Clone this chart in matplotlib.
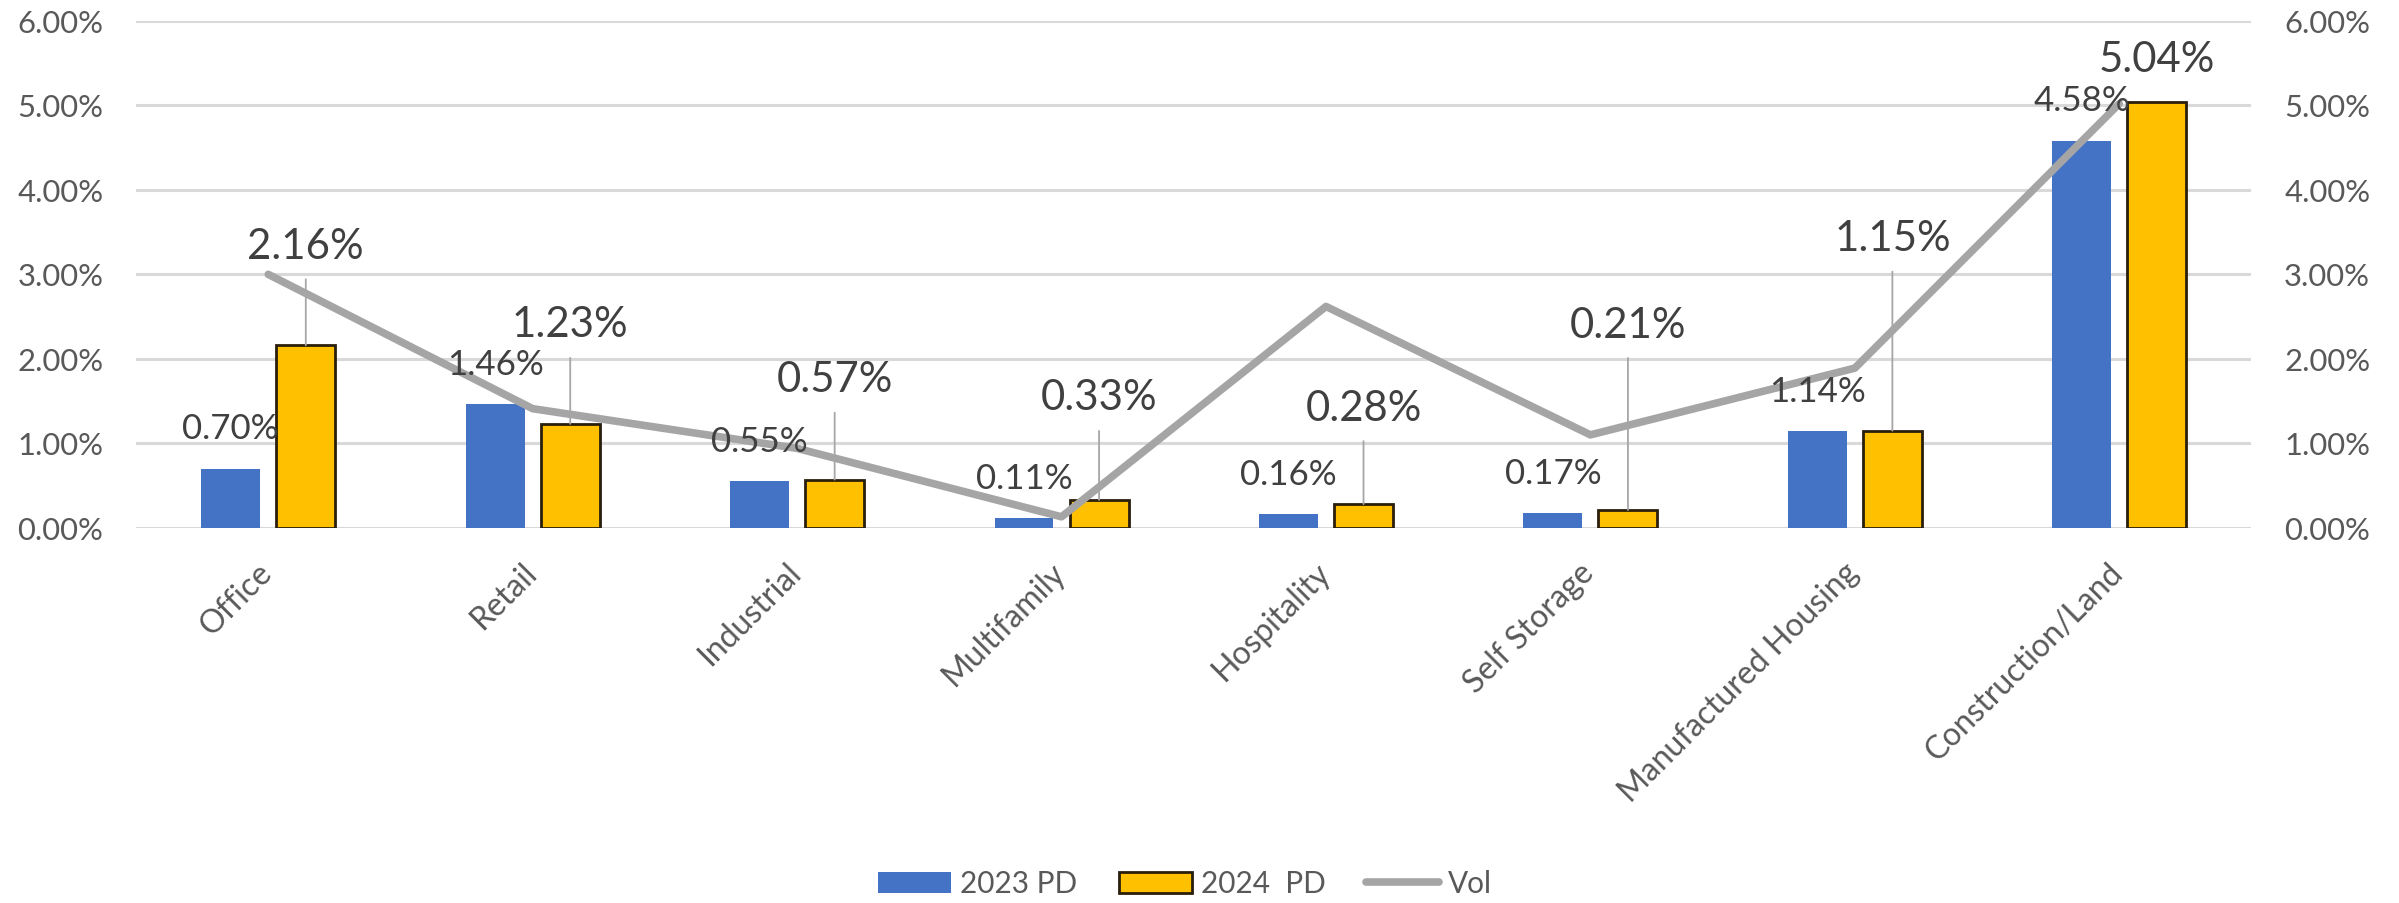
import numpy as np
import matplotlib
matplotlib.use("Agg")
import matplotlib.pyplot as plt
from matplotlib.transforms import ScaledTranslation

# Probability of default by property type, with loss volatility
categories = ["Office", "Retail", "Industrial", "Multifamily", "Hospitality",
              "Self Storage", "Manufactured Housing", "Construction/Land"]
pd_2023 = [0.70, 1.46, 0.55, 0.11, 0.16, 0.17, 1.14, 4.58]
pd_2024 = [2.16, 1.23, 0.57, 0.33, 0.28, 0.21, 1.15, 5.04]
vol = [3.00, 1.41, 0.94, 0.13, 2.62, 1.10, 1.89, 5.02]
y_ticks = [0, 1, 2, 3, 4, 5, 6]
series_names = ["2023 PD", "2024  PD", "Vol"]

# label placement (pixels above the bar top)
label_off_2023 = [40, 40, 40, 40, 40, 40, 40, 40]
label_off_2024 = [99, 99, 100, 102, 96, 185, 192, 43]

plt.rcParams["font.family"] = ["Lato", "DejaVu Sans"]

BLUE = "#4472C4"
GOLD = "#FFC000"
EDGE = "#2A1E0C"
GREY_LINE = "#A5A5A5"
LEADER = "#A6A6A6"
GRID = "#D9D9D9"
TICK_TXT = "#595959"
LABEL_TXT = "#404040"

W, H = 2399, 903
DPI = 100
fig = plt.figure(figsize=(23.995, 9.035), dpi=DPI)
renderer = fig.canvas.get_renderer()


def fit_size(sample, target_px, base=20.0):
    """Font size (pt) at which `sample` renders `target_px` pixels wide."""
    t = fig.text(0, 0, sample, fontsize=base)
    w = t.get_window_extent(renderer=renderer).width
    t.remove()
    return base * target_px / w


tick_fs = fit_size("6.00%", 86)
blue_fs = fit_size("0.70%", 97)
gold_fs = fit_size("2.16%", 116)
cat_fs = fit_size("Manufactured Housing", 325)
leg_fs = fit_size("2023 PD", 117)

left, right, y0, ytop = 136, 2251, 528, 21.4
ax = fig.add_axes([left / W, (H - y0) / H, (right - left) / W, (y0 - ytop) / H])

x = np.arange(len(categories))
bw = 0.223
shift = 0.142

b1 = ax.bar(x - shift, pd_2023, width=bw, color=BLUE, zorder=2)
b2 = ax.bar(x + shift, pd_2024, width=bw, color=GOLD, edgecolor=EDGE,
            linewidth=2.0, zorder=2)

ax.set_xlim(-0.5, len(categories) - 0.5)
ax.set_ylim(0, 6)
ax.set_yticks(y_ticks)
ax.set_yticklabels([f"{v:.2f}%" for v in y_ticks])
ax.yaxis.grid(True, color=GRID, linewidth=2.2)
ax.set_axisbelow(True)
for s in ax.spines.values():
    s.set_visible(False)
ax.tick_params(axis="y", length=0, pad=23.5, labelsize=tick_fs, labelcolor=TICK_TXT)
ax.set_xticks(x)
ax.set_xticklabels(categories, rotation=45, ha="right", va="center",
                   rotation_mode="anchor")
ax.tick_params(axis="x", length=0, pad=29, labelsize=cat_fs, labelcolor=TICK_TXT)
nudge = ScaledTranslation(-1 / DPI, 0, fig.dpi_scale_trans)
for lab in ax.get_xticklabels():
    lab.set_transform(lab.get_transform() + nudge)

# secondary axis carrying the volatility line
ax2 = ax.twinx()
ax2.set_ylim(0, 6)
ax2.set_yticks(y_ticks)
ax2.set_yticklabels([f"{v:.2f}%" for v in y_ticks])
ax2.tick_params(axis="y", length=0, pad=23.5, labelsize=tick_fs, labelcolor=TICK_TXT)
for s in ax2.spines.values():
    s.set_visible(False)
line, = ax2.plot(x, vol, color=GREY_LINE, linewidth=5.5, solid_joinstyle="round",
                 solid_capstyle="round", zorder=3)

# data labels
for xi, v, off in zip(x, pd_2023, label_off_2023):
    ax2.annotate(f"{v:.2f}%", xy=(xi - shift, v), xytext=(0, off),
                 textcoords="offset pixels", ha="center", va="center",
                 fontsize=blue_fs, color=LABEL_TXT, zorder=5)

for xi, v, off in zip(x, pd_2024, label_off_2024):
    if off > 60:
        # leader line from the bar top to just below the moved label
        ax2.annotate("", xy=(xi + shift, v), xytext=(0, off - 33),
                     textcoords="offset pixels",
                     arrowprops=dict(arrowstyle="-", color=LEADER, lw=1.3,
                                     shrinkA=0, shrinkB=0), zorder=4)
    ax2.annotate(f"{v:.2f}%", xy=(xi + shift, v), xytext=(0, off),
                 textcoords="offset pixels", ha="center", va="center",
                 fontsize=gold_fs, color=LABEL_TXT, zorder=5)

em = leg_fs * DPI / 72.0
fig.legend([b1, b2, line], series_names, loc="center",
           bbox_to_anchor=(0.494, 1 - 884 / H), ncol=3, frameon=False,
           fontsize=leg_fs, labelcolor=TICK_TXT, handlelength=73 / em,
           handleheight=22 / em, handletextpad=9 / em, columnspacing=41 / em,
           borderaxespad=0)

fig.savefig("out.png", dpi=DPI, facecolor="white")
